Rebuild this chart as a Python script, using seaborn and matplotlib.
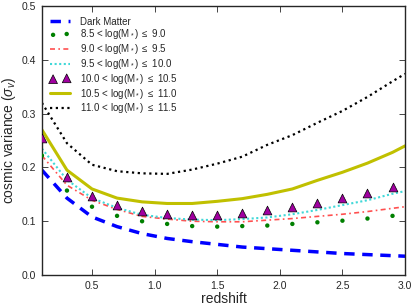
import numpy as np
import pandas as pd
import seaborn as sns
import matplotlib
matplotlib.use("Agg")
import matplotlib.pyplot as plt

# ---- data ----
z_line = [0.1, 0.3, 0.5, 0.7, 0.9, 1.1, 1.3, 1.5, 1.7, 1.9, 2.1, 2.3, 2.5, 2.7, 2.9, 3.0]
z_pts = [0.1, 0.3, 0.5, 0.7, 0.9, 1.1, 1.3, 1.5, 1.7, 1.9, 2.1, 2.3, 2.5, 2.7, 2.9]

dark_matter = [0.195, 0.143, 0.108, 0.090, 0.077, 0.068, 0.062, 0.057, 0.052, 0.049,
               0.046, 0.043, 0.040, 0.038, 0.036, 0.035]
m85_90 = [0.222, 0.157, 0.127, 0.110, 0.100, 0.095, 0.091, 0.090, 0.091, 0.092,
          0.095, 0.098, 0.101, 0.105, 0.110]
m90_95 = [0.222, 0.167, 0.139, 0.122, 0.109, 0.104, 0.100, 0.099, 0.099, 0.102,
          0.105, 0.109, 0.113, 0.118, 0.124, 0.127]
m95_100 = [0.235, 0.177, 0.143, 0.125, 0.112, 0.106, 0.103, 0.102, 0.104, 0.107,
           0.113, 0.121, 0.130, 0.139, 0.151, 0.156]
m100_105 = [0.254, 0.182, 0.147, 0.130, 0.119, 0.113, 0.1115, 0.112, 0.116, 0.120,
            0.126, 0.134, 0.1425, 0.152, 0.164]
m105_110 = [0.270, 0.195, 0.160, 0.143, 0.136, 0.133, 0.133, 0.137, 0.142, 0.150,
            0.160, 0.176, 0.191, 0.208, 0.228, 0.240]
m110_115 = [0.320, 0.245, 0.205, 0.193, 0.189, 0.188, 0.196, 0.207, 0.220, 0.242,
            0.260, 0.283, 0.305, 0.331, 0.360, 0.374]

labels = ["Dark Matter",
          r"8.5 < log(M$_*$) $\leq$ 9.0",
          r"9.0 < log(M$_*$) $\leq$ 9.5",
          r"9.5 < log(M$_*$) $\leq$ 10.0",
          r"10.0 < log(M$_*$) $\leq$ 10.5",
          r"10.5 < log(M$_*$) $\leq$ 11.0",
          r"11.0 < log(M$_*$) $\leq$ 11.5"]

sns.set_style("ticks")
plt.rcParams['font.family'] = ['Liberation Sans', 'DejaVu Sans']
plt.rcParams['mathtext.fontset'] = 'custom'
plt.rcParams['mathtext.rm'] = 'Liberation Sans'
plt.rcParams['mathtext.it'] = 'Liberation Sans:italic'

fig = plt.figure(figsize=(4.15, 3.08), dpi=100)
ax = fig.add_axes([0.101, 0.107, 0.875, 0.8735])

sns.lineplot(x=z_line, y=dark_matter, ax=ax, color="blue", lw=2.5,
             linestyle=(0, (3.0, 2.2)), label=labels[0])
sns.scatterplot(x=z_pts, y=m85_90, ax=ax, color="green", marker="o", s=10,
                edgecolor="none", label=labels[1], zorder=3)
sns.lineplot(x=z_line, y=m90_95, ax=ax, color="#ff5050", lw=1.2,
             linestyle=(0, (3, 2, 1, 2)), label=labels[2])
sns.lineplot(x=z_line, y=m95_100, ax=ax, color="#40d8d8", lw=1.5,
             linestyle=(0, (1, 1.2)), label=labels[3])
sns.scatterplot(x=z_pts, y=m100_105, ax=ax, color="#a000a0", marker="^", s=40,
                edgecolor="black", linewidth=0.5, label=labels[4], zorder=4)
sns.lineplot(x=z_line, y=m105_110, ax=ax, color="#c0c000", lw=2.2,
             linestyle="-", label=labels[5])
sns.lineplot(x=z_line, y=m110_115, ax=ax, color="black", lw=1.6,
             linestyle=(0, (1, 1.6)), label=labels[6])

ax.set_xlim(0.1, 3.0)
ax.set_ylim(0.0, 0.5)
ax.set_xticks([0.5, 1.0, 1.5, 2.0, 2.5, 3.0])
ax.set_yticks([0.0, 0.1, 0.2, 0.3, 0.4, 0.5])
ax.tick_params(direction="in", top=True, right=True, labelsize=7.5, length=4,
               width=0.6, pad=4)
for sp in ax.spines.values():
    sp.set_linewidth(1.0)
ax.set_xlabel("redshift", fontsize=10, labelpad=1)
ax.set_ylabel(r"cosmic variance ($\sigma_v$)", fontsize=10, labelpad=3)

leg = ax.legend(loc="upper left", frameon=False, fontsize=7, handlelength=2.0,
                labelspacing=0.08, borderaxespad=0.0, handletextpad=1.1,
                scatterpoints=2, bbox_to_anchor=(0.012, 0.975))

fig.savefig("out.png", dpi=100)
